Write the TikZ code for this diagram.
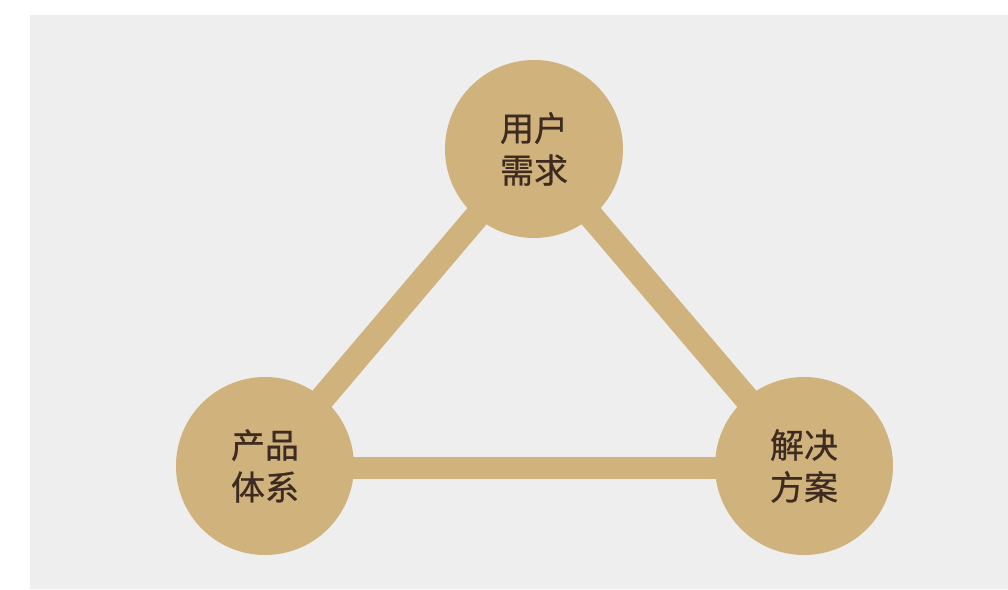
\documentclass[tikz,border=0pt]{standalone}
\usepackage{fontspec}
\newfontfamily\cjk{Noto Sans CJK SC}[FakeBold=0.7]
\usepackage{tikz}

\definecolor{bggray}{HTML}{EDEEED}
\definecolor{gold}{HTML}{CFB27C}
\definecolor{ink}{HTML}{3D2B22}

\pgfdeclarelayer{back}
\pgfdeclarelayer{bars}
\pgfsetlayers{back,bars,main}

\begin{document}
\begin{tikzpicture}[x=1pt, y=-1pt,
        topic/.style={circle, fill=gold, minimum size=178pt, inner sep=0pt,
            text=ink, align=center, font=\cjk\fontsize{34}{42}\selectfont},
        bar/.style={gold, line width=#1}]
        \useasboundingbox (0, 0) rectangle (1008, 589);

        \node[topic] (N) at (534, 149) {用户\\需求};
        \node[topic] (P) at (265, 466) {产品\\体系};
        \node[topic] (S) at (804, 466) {解决\\方案};

        \begin{pgfonlayer}{back}
            \fill[bggray] (30, 15) rectangle (1008, 589);
        \end{pgfonlayer}
        \begin{pgfonlayer}{bars}
            \draw[bar=25pt] (N.center) -- (P.center);
            \draw[bar=25pt] (N.center) -- (S.center);
            \draw[bar=22pt] ([yshift=-1.5pt]P.center) -- ([yshift=-1.5pt]S.center);
        \end{pgfonlayer}
    \end{tikzpicture}
\end{document}
